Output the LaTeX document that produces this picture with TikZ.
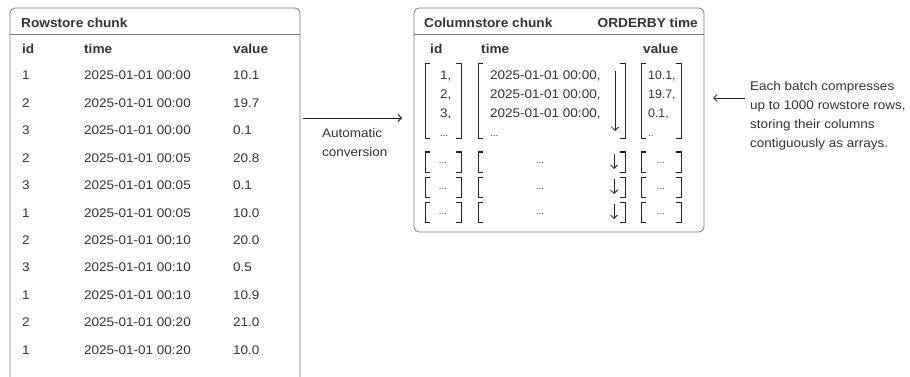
\documentclass[tikz,border=0pt]{standalone}
\usepackage{fontspec}
\setmainfont{Liberation Sans}
\newfontfamily\bodyfont{Liberation Sans}[FakeStretch=1.08]
\newfontfamily\headfont{Liberation Sans}[FakeStretch=1.05]
\usetikzlibrary{arrows.meta}
\definecolor{txt}{HTML}{333333}
\definecolor{frame}{HTML}{7A7A7A}
\definecolor{ink}{HTML}{222222}
\begin{document}
\begin{tikzpicture}[x=1pt,y=-1pt,
  every node/.style={inner sep=0pt, text=txt, font=\bodyfont\fontsize{12.5}{15}\selectfont},
  hdr/.style={font=\headfont\fontsize{13}{15}\selectfont\bfseries, anchor=base west},
  cell/.style={anchor=base west},
  vcell/.style={anchor=base west, font=\rmfamily\fontsize{12.3}{15}\selectfont},
  dots/.style={anchor=base, font=\bodyfont\fontsize{9}{10}\selectfont},
  frm/.style={draw=frame, line width=0.8pt},
  brk/.style={draw=ink, line width=1pt},
  arr/.style={draw=ink, line width=0.8pt, -{Straight Barb[length=3.5pt,width=7pt]}}]
\useasboundingbox (0,0) rectangle (910,377);

% ---------- Rowstore chunk ----------
\draw[frm, rounded corners=5pt] (10,380) -- (10,8) -- (300,8) -- (300,380);
\draw[frm] (10,34) -- (300,34);
\node[hdr] (rowtitle) at (21,28) {Rowstore chunk};
\node[hdr] (rhid) at (22,54) {id};
\node[hdr] (rhtime) at (84,54) {time};
\node[hdr] (rhval) at (233,54) {value};
\foreach \i/\a/\t/\v in {0/1/00:00/10.1, 1/2/00:00/19.7, 2/3/00:00/0.1,
  3/2/00:05/20.8, 4/3/00:05/0.1, 5/1/00:05/10.0, 6/2/00:10/20.0,
  7/3/00:10/0.5, 8/1/00:10/10.9, 9/2/00:20/21.0, 10/1/00:20/10.0} {
  \node[cell] (rid\i) at (22,80+27.4*\i) {\a};
  \node[cell] (rtime\i) at (84,80+27.4*\i) {2025-01-01 \t};
  \node[cell] (rval\i) at (233,80+27.4*\i) {\v};
}

% ---------- conversion arrow ----------
\coordinate (convA) at (303,118);
\coordinate (convB) at (402,118);
\draw[arr] (convA) -- (convB);
\node[anchor=base west, align=left, font=\bodyfont\fontsize{12.5}{19}\selectfont] (convtxt) at (322,157) {Automatic\\conversion};

% ---------- Columnstore chunk ----------
\draw[frm, rounded corners=5pt] (414,8) rectangle (704,232);
\draw[frm] (414,34) -- (704,34);
\node[hdr] (coltitle) at (424,28) {Columnstore chunk};
\node[hdr, anchor=base east] (orderby) at (698,28) {ORDERBY time};
\node[hdr] (chid) at (430,54) {id};
\node[hdr] (chtime) at (481,54) {time};
\node[hdr] (chval) at (643,54) {value};

% big batch
\draw[brk] (430,64) -- (425,64) -- (425,139) -- (430,139);
\draw[brk] (456,64) -- (461,64) -- (461,139) -- (456,139);
\draw[brk] (483,64) -- (478,64) -- (478,139) -- (483,139);
\draw[brk] (620,64) -- (625,64) -- (625,139) -- (620,139);
\draw[brk] (646,64) -- (641,64) -- (641,139) -- (646,139);
\draw[brk] (676,64) -- (681,64) -- (681,139) -- (676,139);
\foreach \i/\a/\v in {0/1/10.1, 1/2/19.7, 2/3/0.1} {
  \node[cell] (cid\i) at (440,80+18.6*\i) {\a,};
  \node[cell] (ctime\i) at (490,80+18.6*\i) {2025-01-01 00:00,};
  \node[vcell] (cval\i) at (648,80+18.6*\i) {\v,};
}
\node[dots, anchor=base west] (cid3) at (440,136) {...};
\node[dots, anchor=base west] (ctime3) at (490,136) {...};
\node[dots, anchor=base west] (cval3) at (648,136) {..};
\coordinate (bigA) at (615,71);
\coordinate (bigB) at (615,131);
\draw[arr] (bigA) -- (bigB);

% small batches
\foreach \j/\c in {1/162, 2/187, 3/212} {
  \draw[brk] (430,\c-10) -- (425,\c-10) -- (425,\c+10) -- (430,\c+10);
  \draw[brk] (456,\c-10) -- (461,\c-10) -- (461,\c+10) -- (456,\c+10);
  \draw[brk] (483,\c-10) -- (478,\c-10) -- (478,\c+10) -- (483,\c+10);
  \draw[brk] (620,\c-10) -- (625,\c-10) -- (625,\c+10) -- (620,\c+10);
  \draw[brk] (646,\c-10) -- (641,\c-10) -- (641,\c+10) -- (646,\c+10);
  \draw[brk] (676,\c-10) -- (681,\c-10) -- (681,\c+10) -- (676,\c+10);
  \node[dots] (sid\j) at (443,\c+2) {...};
  \node[dots] (stime\j) at (540,\c+2) {...};
  \node[dots] (sval\j) at (661,\c+2) {...};
  \coordinate (sA\j) at (614,\c-8);
  \coordinate (sB\j) at (614,\c+7);
  \draw[arr] (sA\j) -- (sB\j);
}

% ---------- explanation ----------
\coordinate (expA) at (745,98);
\coordinate (expB) at (713,98);
\draw[arr] (expA) -- (expB);
\node[anchor=base west, align=left, font=\bodyfont\fontsize{12.5}{19}\selectfont] (exptxt) at (750,148)
  {Each batch compresses\\up to 1000 rowstore rows,\\storing their columns\\contiguously as arrays.};
\end{tikzpicture}
\end{document}
